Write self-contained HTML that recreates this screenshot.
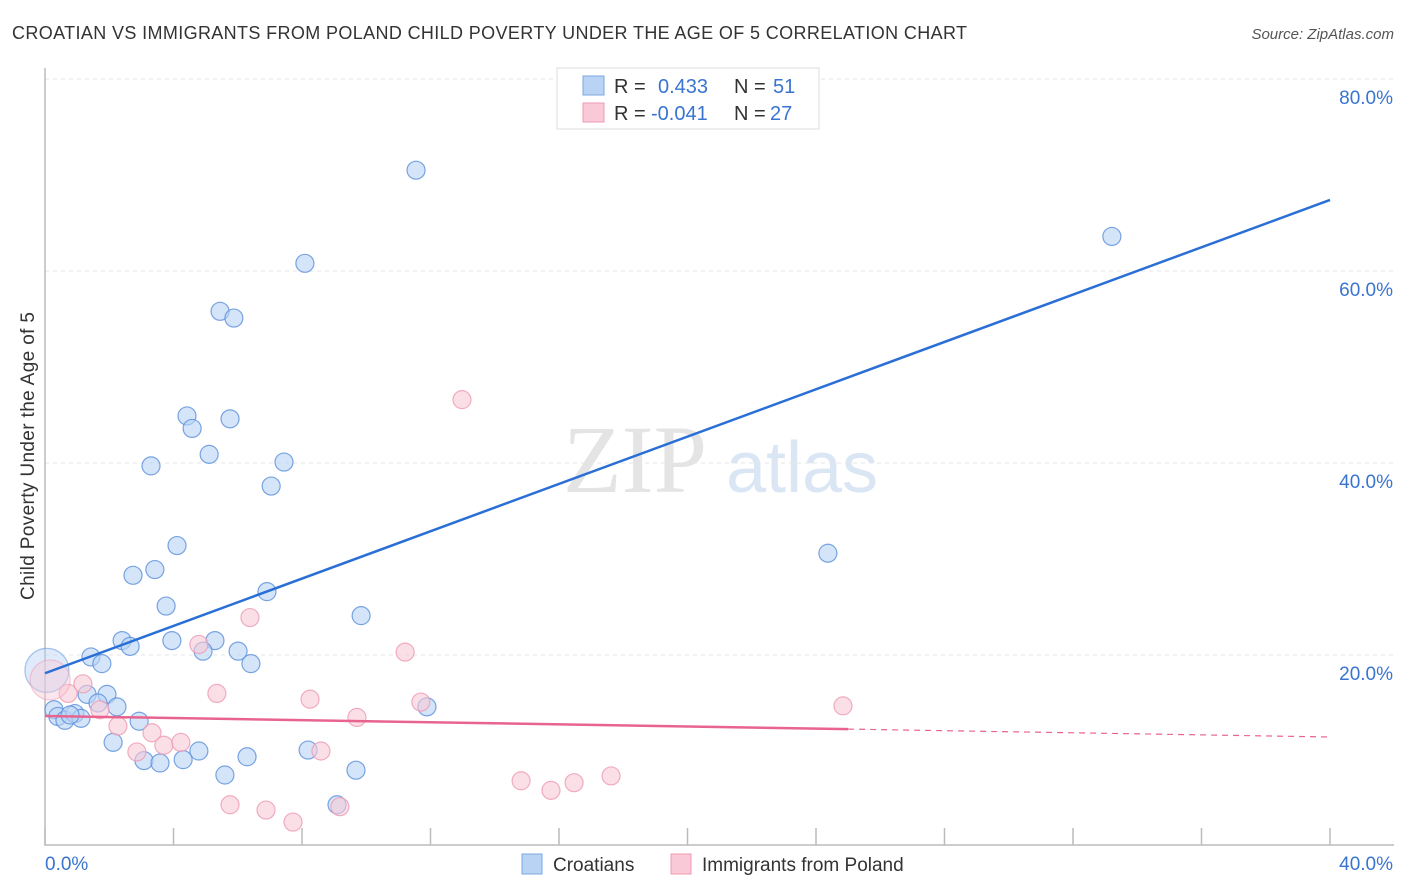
<!DOCTYPE html>
<html><head><meta charset="utf-8"><style>
body{margin:0;background:#fff;font-family:"Liberation Sans",sans-serif;}
svg{display:block}
</style></head><body>
<svg id="chart" width="1406" height="892">
<text x="12" y="39" font-size="18" fill="#333" textLength="955" lengthAdjust="spacing">CROATIAN VS IMMIGRANTS FROM POLAND CHILD POVERTY UNDER THE AGE OF 5 CORRELATION CHART</text>
<text x="1394" y="39" font-size="15" fill="#555" font-style="italic" text-anchor="end">Source: ZipAtlas.com</text>
<text x="635" y="492" font-size="96" fill="#e4e4e4" font-family="Liberation Serif" text-anchor="middle">ZIP</text>
<text x="802" y="492" font-size="72" fill="#dbe6f5" text-anchor="middle">atlas</text>
<g id="grid"></g>
<g id="axes"></g>
<g id="marks"></g>
<text transform="translate(34,456) rotate(-90)" font-size="19" fill="#333" textLength="288" lengthAdjust="spacing" text-anchor="middle">Child Poverty Under the Age of 5</text>
<g>
<rect x="557" y="68" width="262" height="61" fill="#fff" stroke="#ddd"/>
<rect x="583" y="76" width="21" height="19" fill="#b9d3f5" stroke="#7aa7e3"/>
<rect x="583" y="103" width="21" height="19" fill="#f9c9d7" stroke="#ee9ab3"/>
<text x="614" y="93" font-size="20" fill="#333">R = </text><text x="658" y="93" font-size="20" fill="#3a74d0">0.433</text>
<text x="734" y="93" font-size="20" fill="#333">N = </text><text x="773" y="93" font-size="20" fill="#3a74d0">51</text>
<text x="614" y="120" font-size="20" fill="#333">R = </text><text x="651" y="120" font-size="20" fill="#3a74d0">-0.041</text>
<text x="734" y="120" font-size="20" fill="#333">N = </text><text x="770" y="120" font-size="20" fill="#3a74d0">27</text>
</g>
<g>
<rect x="522" y="854" width="20" height="20" fill="#b9d3f5" stroke="#7aa7e3"/>
<text x="553" y="871" font-size="19" fill="#333">Croatians</text>
<rect x="671" y="854" width="20" height="20" fill="#f9c9d7" stroke="#ee9ab3"/>
<text x="702" y="871" font-size="19" fill="#333">Immigrants from Poland</text>
</g>
</svg>
<script>
const blueX=[11.55,8.09,33.21,5.45,5.88,4.42,4.58,5.76,3.30,5.11,7.44,7.04,24.37,4.11,3.42,2.74,3.77,6.91,9.84,2.40,2.65,3.95,5.29,4.92,6.01,6.41,1.43,1.77,1.31,1.93,1.65,2.24,11.89,2.93,0.28,0.40,0.62,0.93,1.12,2.12,3.08,3.58,4.30,4.79,5.60,6.29,8.19,9.68,9.09,0.78,0.06];
const blueY=[70.5,60.8,63.6,55.8,55.1,44.9,43.6,44.6,39.7,40.9,40.1,37.6,30.6,31.4,28.9,28.3,25.1,26.6,24.1,21.5,20.9,21.5,21.5,20.4,20.4,19.1,19.8,19.1,15.9,15.9,15.0,14.6,14.6,13.1,14.3,13.6,13.2,13.9,13.4,10.9,9.0,8.75,9.1,10.0,7.5,9.4,10.1,8.0,4.4,13.75,18.4];
const pinkX=[12.98,6.38,4.79,11.21,0.72,1.18,8.25,5.35,11.70,24.84,9.71,1.71,2.27,3.33,2.86,3.70,4.23,8.59,14.82,15.75,16.47,17.62,5.76,6.88,7.72,9.18,0.16];
const pinkY=[46.6,23.9,21.1,20.3,16.0,17.0,15.4,16.0,15.1,14.7,13.5,14.3,12.6,11.9,9.9,10.6,10.9,10.0,6.9,5.9,6.7,7.4,4.4,3.85,2.6,4.2,17.4];
const blueTrend=[18.1,67.4];
const pinkTrend=[13.65,11.46];
const pinkSolidEnd=25;
const yTicks=[20,40,60,80];
const xTicks=[0,4,8,12,16,20,24,28,32,36,40];
const NS='http://www.w3.org/2000/svg';
const X=v=>45+v*32.125, Y=v=>847-v*9.6;
function mk(tag,attrs,parent){const e=document.createElementNS(NS,tag);for(const k in attrs)e.setAttribute(k,attrs[k]);parent.appendChild(e);return e;}
const grid=document.getElementById('grid'),axes=document.getElementById('axes'),marks=document.getElementById('marks');
yTicks.forEach(t=>{
 const l=mk('line',{x1:45,x2:1394,y1:Y(t),y2:Y(t),stroke:'#e6e6e6','stroke-dasharray':'4,4'},grid);
 
 
 const tx=mk('text',{x:1393,y:Y(t)+25,'font-size':19,fill:'#3a74d0','text-anchor':'end'},grid);
 tx.textContent=t.toFixed(1)+'%';
 
 
});
const ax=mk('path',{d:'M45,68V845H1394',fill:'none',stroke:'#bbb','stroke-width':1.5},axes);


xTicks.forEach(t=>{
 const l=mk('line',{x1:X(t),x2:X(t),y1:828,y2:845,stroke:'#bbb','stroke-width':1.5},axes);
 
 
});
[[0,'start',45],[40,'end',1393]].forEach(([v,a,x])=>{
 const tx=mk('text',{x:x,y:870,'font-size':19,fill:'#3a74d0','text-anchor':a},axes);
 tx.textContent=v.toFixed(1)+'%';
 
 
});
blueX.forEach((v,i)=>{
 const big=i===blueX.length-1;
 const c=mk('circle',{cx:X(v),cy:Y(blueY[i]),r:big?22:9,fill:'#b9d3f5','fill-opacity':big?0.45:0.6,stroke:'#5a8fdb','stroke-opacity':big?0.5:0.8,'stroke-width':1.2},marks);
 
 
});
pinkX.forEach((v,i)=>{
 const big=i===pinkX.length-1;
 const c=mk('circle',{cx:X(v),cy:Y(pinkY[i]),r:big?20:9,fill:'#f9c9d7','fill-opacity':big?0.45:0.6,stroke:'#ee9ab3','stroke-opacity':big?0.5:0.8,'stroke-width':1.2},marks);
 
 
});
const bl=mk('line',{x1:X(0),y1:Y(blueTrend[0]),x2:X(40),y2:Y(blueTrend[1]),stroke:'#2a6fd6','stroke-width':2.5},marks);


const pm=pinkTrend[0]+(pinkTrend[1]-pinkTrend[0])*pinkSolidEnd/40;
const pl=mk('line',{x1:X(0),y1:Y(pinkTrend[0]),x2:X(pinkSolidEnd),y2:Y(pm),stroke:'#e8648f','stroke-width':2.5},marks);


const pd=mk('line',{x1:X(pinkSolidEnd),y1:Y(pm),x2:X(40),y2:Y(pinkTrend[1]),stroke:'#e8648f','stroke-width':1.2,'stroke-dasharray':'6,5'},marks);


</script>
</body></html>
